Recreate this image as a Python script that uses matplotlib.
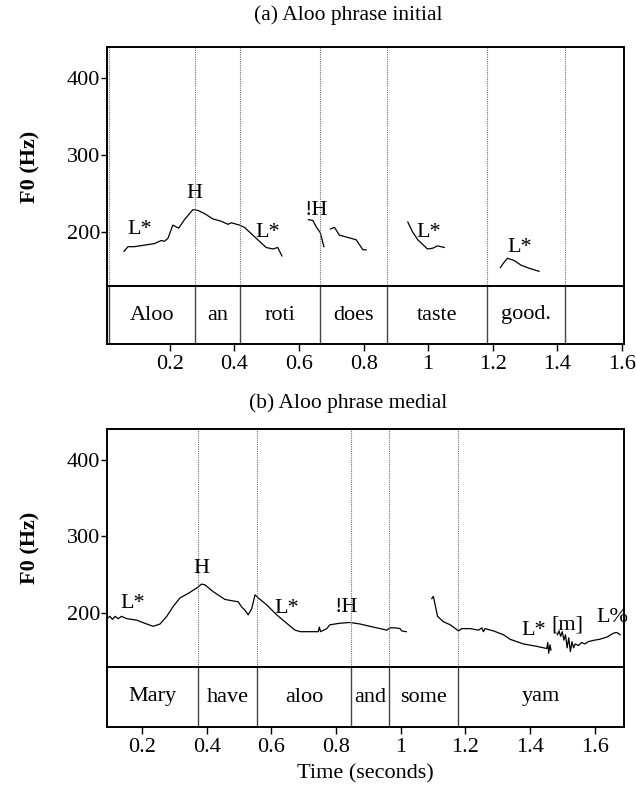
import numpy as np
import matplotlib.pyplot as plt

plt.rcParams['font.family'] = ['Liberation Serif', 'DejaVu Serif']
FS = 16

# ---- panel (a): Aloo phrase initial ----
a_xlim = (0.005, 1.607)
a_bounds = [0.012, 0.279, 0.418, 0.665, 0.874, 1.183, 1.425]
a_words = ['Aloo', 'an', 'roti', 'does', 'taste', 'good.', '']
a_t1 = [0.058, 0.070, 0.090, 0.121, 0.152, 0.173, 0.183, 0.194, 0.209, 0.227, 0.245,
        0.271, 0.287, 0.307, 0.333, 0.359, 0.380, 0.390, 0.416, 0.431, 0.462, 0.498,
        0.519, 0.534, 0.547]
a_f1 = [175, 181, 181, 183, 185, 189, 188, 192, 209, 205, 216,
        229, 228, 224, 217, 214, 210, 212, 209, 206, 194, 180,
        178, 180, 169]
a_t2 = [0.629, 0.643, 0.653, 0.666, 0.677]
a_f2 = [216, 215, 207, 199, 181]
a_t3 = [0.697, 0.710, 0.725, 0.751, 0.777, 0.798, 0.808]
a_f3 = [204, 206, 196, 193, 190, 177, 177]
a_t4 = [0.937, 0.952, 0.968, 0.998, 1.014, 1.029, 1.050]
a_f4 = [213, 200, 190, 178, 179, 182, 180]
a_t5 = [1.224, 1.234, 1.246, 1.267, 1.288, 1.313, 1.344]
a_f5 = [154, 160, 166, 163, 157, 153, 149]
a_tones = ['L*', 'H', 'L*', '!H', 'L*', 'L*']
a_tone_t = [0.105, 0.276, 0.503, 0.653, 1.003, 1.283]
a_tone_f = [203, 250, 199, 228, 200, 180]

# ---- panel (b): Aloo phrase medial ----
b_xlim = (0.091, 1.691)
b_bounds = [0.374, 0.556, 0.845, 0.964, 1.178]
b_words = ['Mary', 'have', 'aloo', 'and', 'some', 'yam']
b_t1 = [0.091, 0.100, 0.108, 0.116, 0.126, 0.136, 0.152, 0.183, 0.214, 0.234, 0.255,
        0.276, 0.296, 0.317, 0.343, 0.369, 0.384, 0.394, 0.420, 0.456, 0.482, 0.497,
        0.508, 0.518, 0.528, 0.539, 0.549, 0.559, 0.585, 0.616, 0.647, 0.673, 0.690,
        0.720, 0.745, 0.748, 0.752, 0.771, 0.781, 0.812, 0.843, 0.874, 0.915, 0.957,
        0.967, 0.983, 0.998, 1.003, 1.017]
b_f1 = [193, 196, 192, 196, 193, 196, 193, 191, 186, 183, 186,
        196, 209, 220, 226, 233, 238, 237, 228, 218, 216, 215,
        208, 204, 198, 206, 224, 220, 211, 198, 187, 178, 176,
        176, 176, 182, 176, 180, 185, 187, 188, 186, 182, 178,
        181, 181, 180, 177, 176]
b_t2 = [1.096, 1.101, 1.110, 1.114, 1.132, 1.153, 1.179, 1.189, 1.215, 1.241, 1.251,
        1.256, 1.261, 1.287, 1.318, 1.339, 1.380, 1.420, 1.442, 1.452, 1.455, 1.458,
        1.462, 1.465]
b_f2 = [219, 222, 204, 196, 189, 185, 177, 180, 180, 178, 181,
        176, 180, 177, 172, 166, 160, 157, 155, 154, 162, 148,
        159, 152]
b_t3 = [1.485, 1.490, 1.495, 1.500, 1.505, 1.510, 1.515, 1.520, 1.525, 1.530, 1.535,
        1.540, 1.550, 1.560, 1.570, 1.580, 1.600, 1.615, 1.638, 1.658, 1.669, 1.679]
b_f3 = [172, 177, 170, 176, 165, 172, 155, 168, 150, 163, 155,
        160, 158, 162, 160, 163, 165, 166, 169, 174, 175, 172]
b_tones = ['L*', 'H', 'L*', '!H', 'L*', '[m]', 'L%']
b_tone_t = [0.172, 0.384, 0.647, 0.833, 1.411, 1.516, 1.654]
b_tone_f = [213, 258, 206, 208, 178, 185, 194]

F_LIM = (130, 440)
W, H = 636, 787


def panel(fig, top, split, bottom, xlim, bounds, words, contours, tones, tt, tf,
          title, title_y):
    left, right = 107 / W, 624 / W
    axp = fig.add_axes([left, 1 - split / H, right - left, (split - top) / H])
    axt = fig.add_axes([left, 1 - bottom / H, right - left, (bottom - split) / H],
                       sharex=axp)
    for t, f in contours:
        axp.plot(t, f, color='black', lw=0.9)
    for s, t, f in zip(tones, tt, tf):
        axp.text(t, f, s, fontsize=FS, ha='center', va='center')
    for b in bounds:
        axp.axvline(b, color='#6f6f6f', lw=0.8, ls=(0, (1, 1)))
        axt.axvline(b, color='#444444', lw=1.0)
    axp.set_xlim(*xlim)
    axp.set_ylim(*F_LIM)
    axp.set_yticks([200, 300, 400])
    axp.tick_params(axis='y', direction='out', length=4, width=1, labelsize=FS, pad=1)
    axp.tick_params(axis='x', bottom=False, labelbottom=False)
    edges = list(bounds) + [xlim[1]]
    if bounds[0] > xlim[0] + 0.05:
        edges = [xlim[0]] + edges
    for w, a, b in zip(words, edges[:-1], edges[1:]):
        axt.text((a + b) / 2, 0.5, w, fontsize=FS, ha='center', va='center')
    axt.set_ylim(0, 1)
    axt.set_yticks([])
    axt.set_xticks([0.2, 0.4, 0.6, 0.8, 1, 1.2, 1.4, 1.6])
    axt.set_xticklabels(['0.2', '0.4', '0.6', '0.8', '1', '1.2', '1.4', '1.6'])
    axt.tick_params(axis='x', direction='out', length=5, width=1, labelsize=FS, pad=3)
    for ax in (axp, axt):
        for sp in ax.spines.values():
            sp.set_linewidth(1.4)
    fig.text(348 / W, 1 - title_y / H, title, fontsize=15.5, ha='center', va='center')
    fig.text(30 / W, 1 - (top + split) / 2 / H, 'F0 (Hz)', fontsize=FS,
             fontweight='bold', rotation=90, ha='center', va='center')
    return axt


fig = plt.figure(figsize=(W / 100, H / 100), dpi=100)
panel(fig, 47, 286, 344, a_xlim, a_bounds, a_words,
      [(a_t1, a_f1), (a_t2, a_f2), (a_t3, a_f3), (a_t4, a_f4), (a_t5, a_f5)],
      a_tones, a_tone_t, a_tone_f, '(a) Aloo phrase initial', 15)
axb = panel(fig, 429, 667, 727, b_xlim, b_bounds, b_words,
            [(b_t1, b_f1), (b_t2, b_f2), (b_t3, b_f3)],
            b_tones, b_tone_t, b_tone_f, '(b) Aloo phrase medial', 403)
axb.set_xlabel('Time (seconds)', fontsize=FS, labelpad=5)

fig.savefig('out.png', dpi=100)
